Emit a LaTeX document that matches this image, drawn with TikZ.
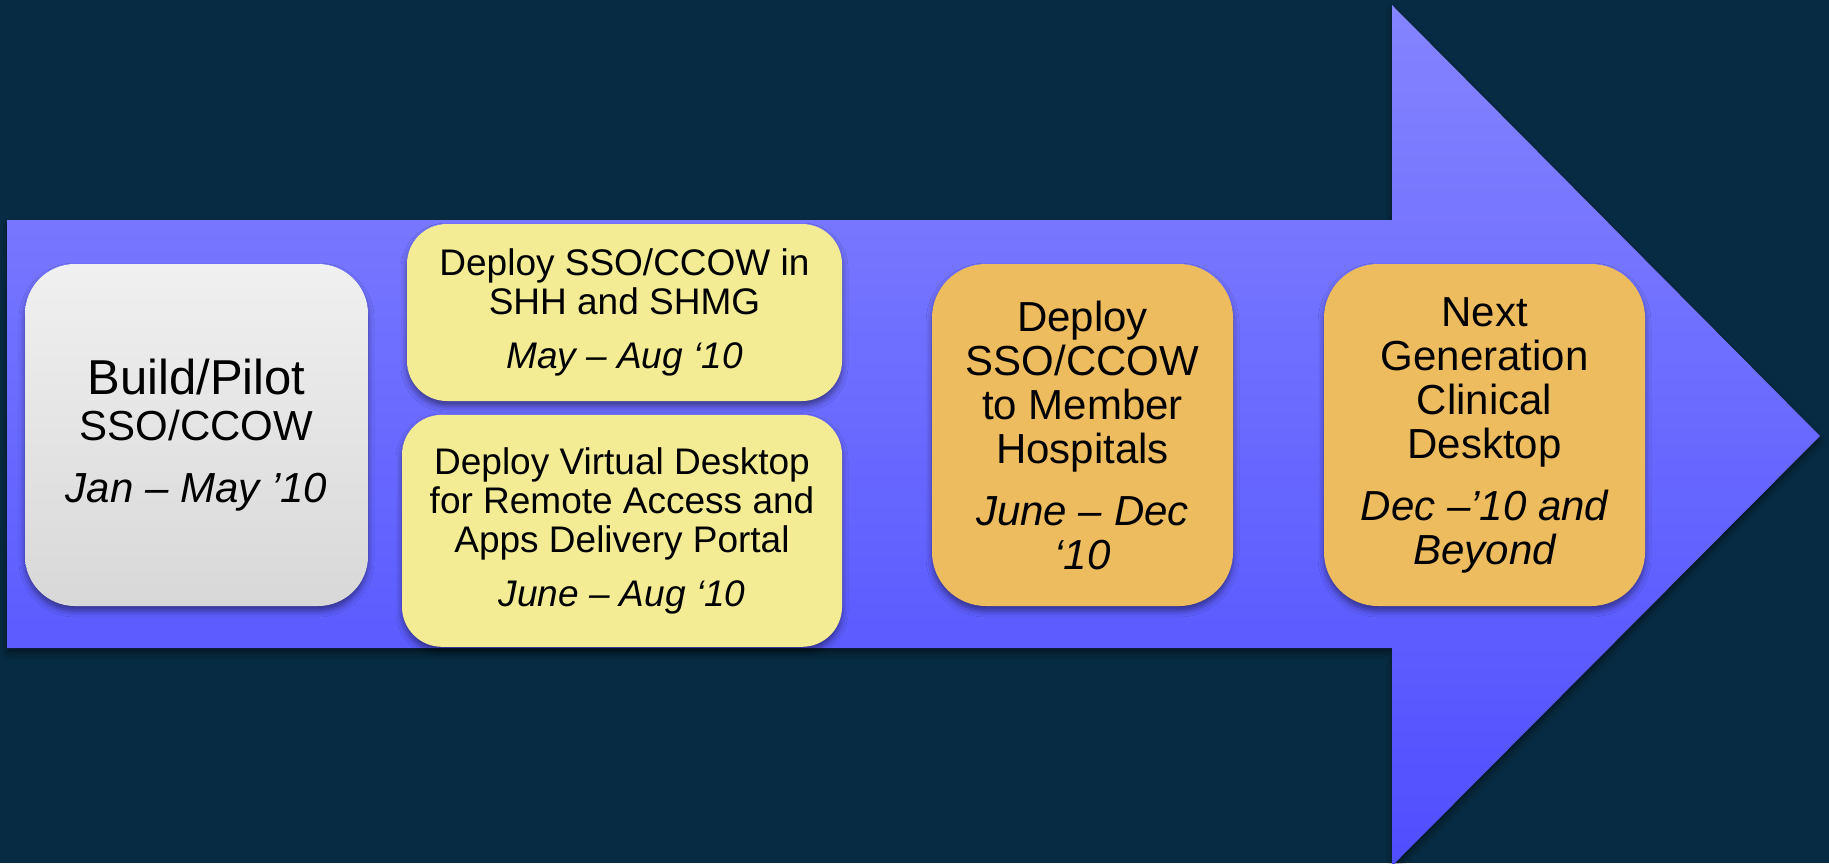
\documentclass[tikz,border=0pt]{standalone}
\usepackage{fontspec}
\setmainfont{Liberation Sans}
\usetikzlibrary{positioning,shadows.blur}
\definecolor{fondo}{HTML}{072B42}
\definecolor{flechaarriba}{HTML}{8484FF}
\definecolor{flechaabajo}{HTML}{4E4EFF}
\definecolor{grisarriba}{HTML}{F0F0F0}
\definecolor{grisabajo}{HTML}{D8D8D8}
\definecolor{amarillo}{HTML}{F3EC95}
\definecolor{naranja}{HTML}{EDBC5E}
\tikzstyle{sombra} = [blur shadow={shadow xshift=0pt, shadow yshift=-2.5pt, shadow blur radius=3pt, shadow opacity=45}]
\tikzstyle{etapa} = [sombra, rectangle, align=center, text=black, inner sep=0pt]
\tikzstyle{etapagris} = [etapa, rounded corners=25pt, top color=grisarriba, bottom color=grisabajo, minimum width=171.5pt, minimum height=171pt, font=\fontsize{21}{23}\selectfont]
\tikzstyle{etapaamarilla} = [etapa, rounded corners=20pt, fill=amarillo, font=\fontsize{18.5}{19.5}\selectfont]
\tikzstyle{etapanaranja} = [etapa, rounded corners=27pt, fill=naranja, minimum height=171pt, font=\fontsize{21}{22}\selectfont]

\begin{document}
\begin{tikzpicture}[x=0.5pt, y=-0.5pt]
	\fill[fondo] (0,0) rectangle (1829,863);
	\useasboundingbox (0,0) rectangle (1829,863);
	% flecha
	\fill[sombra, top color=flechaarriba, bottom color=flechaabajo] (7,220) -- (1392,220) -- (1392,5) -- (1820,436) -- (1392,866) -- (1392,648) -- (7,648) -- cycle;
	% etapas
	\node[etapagris] (piloto) at (196.5,435) {{\fontsize{24.5}{23}\selectfont Build/Pilot}\\SSO/CCOW\\[8pt]\itshape Jan – May ’10};
	\node[etapaamarilla, minimum width=217.5pt, minimum height=88.5pt] (sshh) at (624.5,312.5) {Deploy SSO/CCOW in\\SHH and SHMG\\[7.5pt]\itshape May – Aug ‘10};
	\node[etapaamarilla, minimum width=220pt, minimum height=116pt, below=6.5pt of sshh, xshift=-1.25pt] (virtual) {Deploy Virtual Desktop\\for Remote Access and\\Apps Delivery Portal\\[7.5pt]\itshape June – Aug ‘10};
	\node[etapanaranja, minimum width=150.5pt] (miembros) at (1082.5,435) {Deploy\\SSO/CCOW\\to Member\\Hospitals\\[9pt]\itshape June – Dec\\\itshape ‘10};
	\node[etapanaranja, minimum width=160.5pt] (siguiente) at (1484.5,435) {Next\\Generation\\Clinical\\Desktop\\[9pt]\itshape Dec –’10 and\\\itshape Beyond};
\end{tikzpicture}
\end{document}
